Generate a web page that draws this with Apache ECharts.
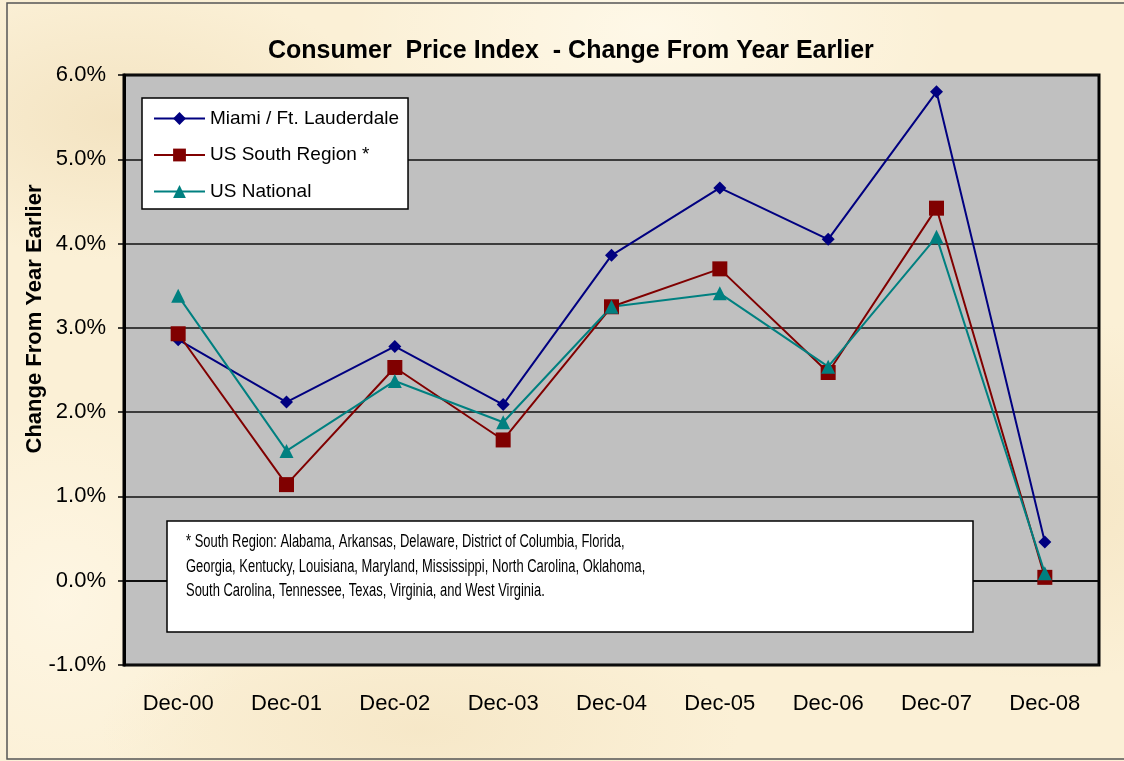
<!DOCTYPE html>
<html>
<head>
<meta charset="utf-8">
<script src="https://cdn.jsdelivr.net/npm/echarts@6/dist/echarts.min.js"></script>
<style>
  html, body { margin: 0; padding: 0; }
  #chart {
    width: 1124px; height: 761px;
    background-color: #fbf0d6;
    background-image:
      radial-gradient(ellipse 260px 140px at 120px 120px, rgba(240,222,185,0.7), rgba(240,222,185,0)),
      radial-gradient(ellipse 300px 160px at 650px 30px, rgba(255,250,236,0.8), rgba(255,250,236,0)),
      radial-gradient(ellipse 280px 180px at 1050px 500px, rgba(243,226,190,0.7), rgba(243,226,190,0)),
      radial-gradient(ellipse 320px 120px at 420px 730px, rgba(244,228,194,0.7), rgba(244,228,194,0)),
      radial-gradient(ellipse 200px 200px at 60px 600px, rgba(255,248,232,0.7), rgba(255,248,232,0));
  }
</style>
</head>
<body>
<div id="chart"></div>
<script>
// 消费者价格指数 同比变化 (%)
let categories = ['Dec-00','Dec-01','Dec-02','Dec-03','Dec-04','Dec-05','Dec-06','Dec-07','Dec-08']
let miami = [2.86, 2.12, 2.78, 2.09, 3.86, 4.66, 4.05, 5.80, 0.46]
let southRegion = [2.93, 1.14, 2.53, 1.67, 3.25, 3.70, 2.47, 4.42, 0.04]
let usNational = [3.38, 1.54, 2.37, 1.88, 3.25, 3.41, 2.54, 4.08, 0.09]
let seriesNames = ['Miami / Ft. Lauderdale', 'US South Region *', 'US National']
let yAxisTitle = 'Change From Year Earlier'
let noteLines = [
  '* South Region: Alabama, Arkansas, Delaware, District of Columbia, Florida,',
  'Georgia, Kentucky, Louisiana, Maryland, Mississippi, North Carolina, Oklahoma,',
  'South Carolina, Tennessee, Texas, Virginia, and West Virginia.'
]

let font = 'Liberation Sans, Arial, sans-serif'
let myChart = echarts.init(document.getElementById('chart'))

let option = {
  backgroundColor: 'transparent',
  title: {
    text: 'Consumer  Price Index  - Change From Year Earlier',
    left: 263,
    top: 34,
    textStyle: { fontFamily: font, fontSize: 25, fontWeight: 'bold', color: '#000' }
  },
  legend: {
    orient: 'vertical',
    left: 142,
    top: 98,
    data: seriesNames,
    backgroundColor: '#fff',
    borderColor: '#000',
    borderWidth: 1.5,
    borderRadius: 0,
    padding: [11, 9, 8, 11],
    itemWidth: 51,
    itemHeight: 16,
    itemGap: 17.5,
    textStyle: { fontFamily: font, fontSize: 19, color: '#000', lineHeight: 16 }
  },
  grid: {
    left: 124,
    right: 25,
    top: 75,
    bottom: 96,
    show: true,
    backgroundColor: '#c0c0c0',
    borderColor: '#000',
    borderWidth: 3,
    containLabel: false
  },
  xAxis: [
    {
      type: 'category',
      data: categories,
      position: 'bottom',
      axisLine: { onZero: false, show: false },
      axisTick: { show: false },
      axisLabel: { margin: 28, fontFamily: font, fontSize: 22, color: '#000' }
    },
    {
      type: 'category',
      data: categories,
      position: 'bottom',
      axisLine: { onZero: true, lineStyle: { color: '#000', width: 1.5 } },
      axisTick: { length: 6, lineStyle: { color: '#000', width: 1.5 } },
      axisLabel: { show: false }
    }
  ],
  yAxis: {
    type: 'value',
    min: -1,
    max: 6,
    interval: 1,
    axisLine: { show: true, lineStyle: { color: '#000', width: 3 } },
    axisTick: { show: true, length: 6, lineStyle: { color: '#000', width: 1.5 } },
    axisLabel: {
      margin: 18,
      fontFamily: font,
      fontSize: 22,
      color: '#000',
      formatter: function (v) { return v.toFixed(1) + '%' }
    },
    splitLine: { show: true, lineStyle: { color: '#111', width: 1.6 } }
  },
  series: [
    {
      name: seriesNames[0], type: 'line', data: miami, xAxisIndex: 0,
      symbol: 'diamond', symbolSize: 13,
      itemStyle: { color: '#000080' }, lineStyle: { color: '#000080', width: 2 }
    },
    {
      name: seriesNames[1], type: 'line', data: southRegion, xAxisIndex: 0,
      symbol: 'rect', symbolSize: 15,
      itemStyle: { color: '#800000' }, lineStyle: { color: '#800000', width: 2 }
    },
    {
      name: seriesNames[2], type: 'line', data: usNational, xAxisIndex: 0,
      symbol: 'triangle', symbolSize: 14,
      itemStyle: { color: '#008080' }, lineStyle: { color: '#008080', width: 2 }
    }
  ],
  graphic: [
    {
      // 纵轴标题（原图中偏上）
      type: 'text',
      x: 35,
      y: 319,
      rotation: Math.PI / 2,
      style: {
        text: yAxisTitle,
        align: 'center',
        verticalAlign: 'middle',
        fontFamily: font,
        fontSize: 22,
        fontWeight: 'bold',
        fill: '#000'
      }
    },
    {
      type: 'rect',
      z: 100,
      shape: { x: 167, y: 521, width: 806, height: 111 },
      style: { fill: '#fff', stroke: '#000', lineWidth: 1.5 }
    },
    {
      // 注释文字横向压缩，模拟窄体字
      type: 'text',
      z: 101,
      x: 186,
      y: 530,
      scaleX: 0.72,
      style: {
        text: noteLines.join('\n'),
        fontFamily: font,
        fontSize: 18,
        lineHeight: 24.5,
        fill: '#000'
      }
    },
    {
      type: 'rect',
      z: 100,
      silent: true,
      shape: { x: 7, y: 3, width: 1130, height: 756 },
      style: { fill: 'none', stroke: '#555', lineWidth: 1.5 }
    }
  ]
}

myChart.setOption(option)
window.addEventListener('resize', function () {
  myChart.resize()
})
</script>
</body>
</html>
